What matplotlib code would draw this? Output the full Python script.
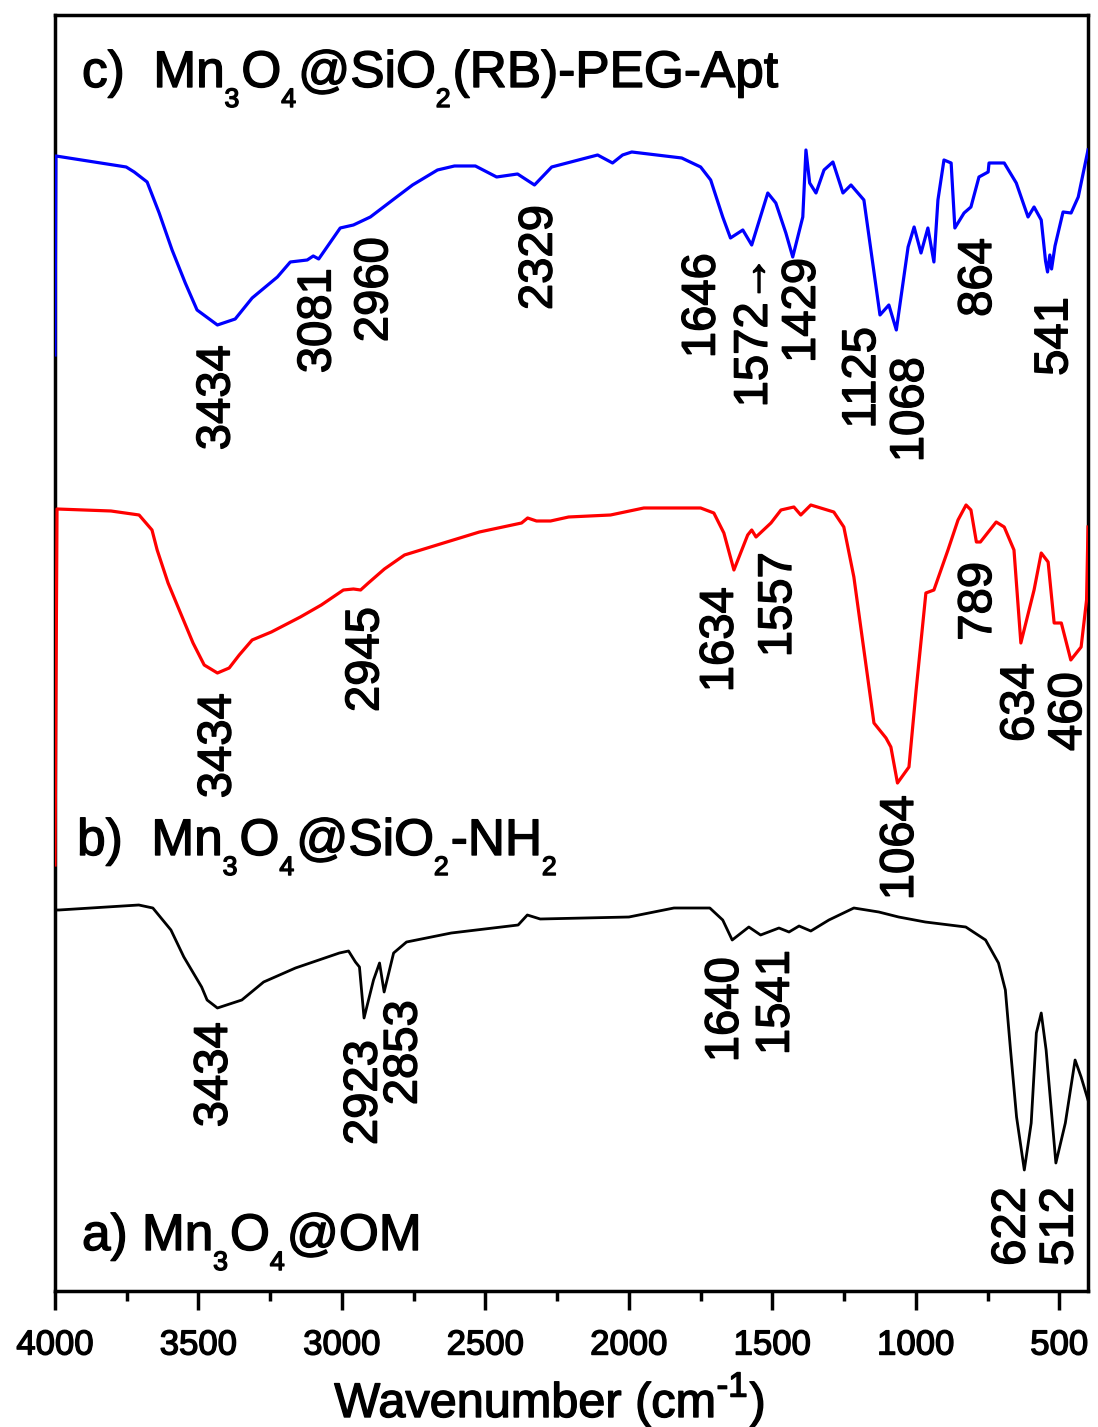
import matplotlib
matplotlib.use('Agg')
import matplotlib.pyplot as plt
import matplotlib.patheffects as pe
from matplotlib.transforms import IdentityTransform
from matplotlib.ticker import MultipleLocator

plt.rcParams['font.family'] = ['Liberation Sans', 'DejaVu Sans']

# c) Mn3O4@SiO2(RB)-PEG-Apt  (blue)
wn_c = [4000, 3997, 3752, 3724, 3679, 3637, 3592, 3546, 3505, 3434,
        3372, 3313, 3225, 3180, 3121, 3100, 3081, 3006, 2960, 2901,
        2814, 2754, 2667, 2608, 2535, 2461, 2388, 2329, 2269, 2109,
        2057, 2022, 1990, 1816, 1750, 1715, 1673, 1646, 1603, 1572,
        1516, 1488, 1453, 1429, 1394, 1383, 1370, 1348, 1320, 1289,
        1254, 1226, 1181, 1125, 1094, 1068, 1027, 1006, 982, 958,
        937, 923, 902, 877, 864, 832, 808, 780, 748, 745,
        692, 650, 609, 588, 563, 548, 541, 533, 527, 515,
        487, 459, 434, 400]
t_c = [93.6, 113.5, 112.4, 111.9, 110.9, 107.8, 104.1, 100.8, 98.1, 96.6,
       97.2, 99.3, 101.4, 102.9, 103.1, 103.5, 103.2, 106.3, 106.6, 107.4,
       109.3, 110.6, 112.1, 112.5, 112.5, 111.4, 111.7, 110.6, 112.4, 113.6,
       112.8, 113.6, 113.9, 113.3, 112.4, 111.1, 107.4, 105.3, 106.1, 104.6,
       109.8, 108.8, 105.8, 103.4, 107.4, 114.1, 110.8, 109.8, 112.1, 112.9,
       109.8, 110.6, 109.1, 97.6, 98.6, 96.1, 104.4, 106.4, 103.8, 106.3,
       102.9, 109.1, 113.1, 112.8, 106.3, 107.8, 108.4, 111.4, 111.9, 112.8,
       112.8, 110.8, 107.4, 108.4, 107.1, 103.0, 101.9, 103.6, 102.2, 104.5,
       107.9, 107.8, 109.4, 114.1]

# b) Mn3O4@SiO2-NH2  (red)
wn_b = [4000, 3993, 3805, 3707, 3662, 3644, 3606, 3567, 3519, 3480,
        3434, 3393, 3358, 3313, 3246, 3145, 3072, 2995, 2960, 2935,
        2908, 2852, 2782, 2646, 2521, 2374, 2353, 2322, 2273, 2210,
        2064, 1948, 1750, 1704, 1669, 1634, 1586, 1572, 1557, 1505,
        1470, 1425, 1401, 1366, 1286, 1251, 1216, 1181, 1146, 1104,
        1087, 1064, 1024, 999, 965, 937, 888, 853, 825, 808,
        789, 775, 720, 692, 658, 634, 588, 563, 539, 518,
        493, 460, 424, 405, 400]
t_b = [42.6, 78.2, 78.0, 77.6, 76.1, 74.1, 70.8, 68.1, 64.8, 62.6,
       61.8, 62.3, 63.6, 65.1, 65.9, 67.4, 68.6, 70.1, 70.2, 70.1,
       70.8, 72.2, 73.6, 74.8, 75.9, 76.8, 77.3, 77.0, 77.0, 77.4,
       77.6, 78.3, 78.3, 77.8, 75.8, 72.1, 75.6, 76.1, 75.4, 76.8,
       78.1, 78.4, 77.6, 78.6, 77.9, 76.4, 71.4, 64.1, 56.8, 55.3,
       54.4, 50.8, 52.4, 60.1, 69.8, 70.1, 74.1, 77.1, 78.6, 78.1,
       74.9, 74.9, 76.9, 76.4, 74.1, 64.8, 70.1, 73.8, 72.9, 66.8,
       66.8, 63.1, 64.4, 69.1, 76.4]

# a) Mn3O4@OM  (black)
wn_a = [4000, 3986, 3708, 3659, 3596, 3551, 3489, 3470, 3434, 3349,
        3273, 3162, 3009, 2977, 2953, 2939, 2923, 2890, 2869, 2853,
        2820, 2775, 2619, 2386, 2354, 2309, 2000, 1843, 1718, 1673,
        1640, 1582, 1541, 1477, 1442, 1407, 1366, 1303, 1216, 1129,
        1060, 967, 826, 757, 712, 688, 670, 649, 622, 598,
        580, 563, 546, 512, 479, 445, 424, 400]
t_a = [38.1, 38.1, 38.6, 38.3, 36.1, 33.4, 30.4, 29.1, 28.3, 29.1,
       30.9, 32.3, 33.8, 34.0, 32.9, 32.4, 27.3, 31.1, 32.8, 29.9,
       33.8, 34.9, 35.8, 36.6, 37.6, 37.2, 37.4, 38.3, 38.3, 37.1,
       35.1, 36.4, 35.6, 36.3, 35.9, 36.5, 36.0, 37.1, 38.3, 37.9,
       37.4, 36.9, 36.4, 35.1, 32.8, 30.1, 24.1, 17.4, 12.1, 16.8,
       25.8, 27.8, 24.1, 12.8, 16.8, 23.1, 21.4, 19.1]

# peak labels: text, x (cm-1), y of the label's upper end
peaks_c = ['3434', '3081', '2960', '2329', '1646', '1572\u2192', '1429',
           '1125', '1068', '864', '541']
peaks_c_x = [3434, 3082, 2884, 2311, 1743, 1561, 1394, 1184, 1017, 780, 514]
peaks_c_y = [94.6, 102.3, 105.4, 108.6, 103.8, 103.6, 103.3, 96.4, 93.4, 105.3, 99.4]

peaks_b = ['3434', '2945', '1634', '1557', '1064', '789', '634', '460']
peaks_b_x = [3430, 2915, 1680, 1477, 1052, 780, 633, 466]
peaks_b_y = [59.8, 68.4, 70.4, 73.9, 49.6, 72.9, 62.8, 61.9]

peaks_a = ['3434', '2923', '2853', '1640', '1541', '622', '512']
peaks_a_x = [3443, 2921, 2782, 1662, 1485, 663, 496]
peaks_a_y = [26.9, 25.1, 29.1, 33.4, 34.1, 10.4, 10.4]

# sample names, split into (text, level): 0 normal, -1 subscript, 1 superscript
names = [
    [('c)  Mn', 0), ('3', -1), ('O', 0), ('4', -1), ('@SiO', 0), ('2', -1),
     ('(RB)-PEG-Apt', 0)],
    [('b)  Mn', 0), ('3', -1), ('O', 0), ('4', -1), ('@SiO', 0), ('2', -1),
     ('-NH', 0), ('2', -1)],
    [('a) Mn', 0), ('3', -1), ('O', 0), ('4', -1), ('@OM', 0)],
]
name_x = [3906, 3923, 3906]
name_y = [120.4, 43.6, 4.1]
xlabel_parts = [('Wavenumber (cm', 0), ('-1', 1), (')', 0)]

fig = plt.figure(figsize=(10.98, 14.27), dpi=100, facecolor='white')
ax = fig.add_axes([0.0501, 0.0953, 0.9408, 0.8942])
bold = [pe.withStroke(linewidth=1.0, foreground='black')]

ax.plot(wn_c, t_c, color='#0000ff', lw=2.3, zorder=3)
ax.plot(wn_b, t_b, color='#ff0000', lw=2.3, zorder=3)
ax.plot(wn_a, t_a, color='black', lw=2.0, zorder=3)

for labels, xs, ys in [(peaks_c, peaks_c_x, peaks_c_y),
                       (peaks_b, peaks_b_x, peaks_b_y),
                       (peaks_a, peaks_a_x, peaks_a_y)]:
    for s, x, y in zip(labels, xs, ys):
        ax.text(x, y, s, rotation=90, ha='center', va='top', fontsize=34,
                path_effects=bold)

ax.set_xlim(4000, 400)
ax.set_ylim(0, 127.6)
ax.set_yticks([])
ax.xaxis.set_major_locator(MultipleLocator(500))
ax.xaxis.set_minor_locator(MultipleLocator(250))
ax.tick_params(axis='x', which='major', direction='out', length=14, width=2.5,
               labelsize=25, pad=13)
ax.tick_params(axis='x', which='minor', direction='out', length=7, width=2.5)
for sp in ax.spines.values():
    sp.set_linewidth(2.5)
for lbl in ax.get_xticklabels():
    lbl.set_path_effects(bold)

renderer = fig.canvas.get_renderer()


def rich_text(x, y, parts, size, ha='left'):
    # x, y in pixels, y is the baseline of the normal-size text
    px = size * fig.dpi / 72.0
    placed = []
    cur = 0.0
    for s, lvl in parts:
        fs = size * (0.52 if lvl < 0 else 0.72 if lvl > 0 else 1.0)
        dy = -0.39 * px if lvl < 0 else 0.42 * px if lvl > 0 else 0.0
        t = fig.text(0, 0, s, fontsize=fs, ha='left', va='baseline',
                     transform=IdentityTransform(), path_effects=bold)
        w = t.get_window_extent(renderer).width
        placed.append((t, cur, dy))
        cur += w + (2 if lvl else 0)
    shift = -cur / 2 if ha == 'center' else 0
    for t, off, dy in placed:
        t.set_position((x + shift + off, y + dy))


for parts, x, y in zip(names, name_x, name_y):
    dx, dy = ax.transData.transform((x, y))
    rich_text(dx, dy, parts, 37)

rich_text(550, 10, xlabel_parts, 35, ha='center')

fig.savefig('out.png', dpi=100)
